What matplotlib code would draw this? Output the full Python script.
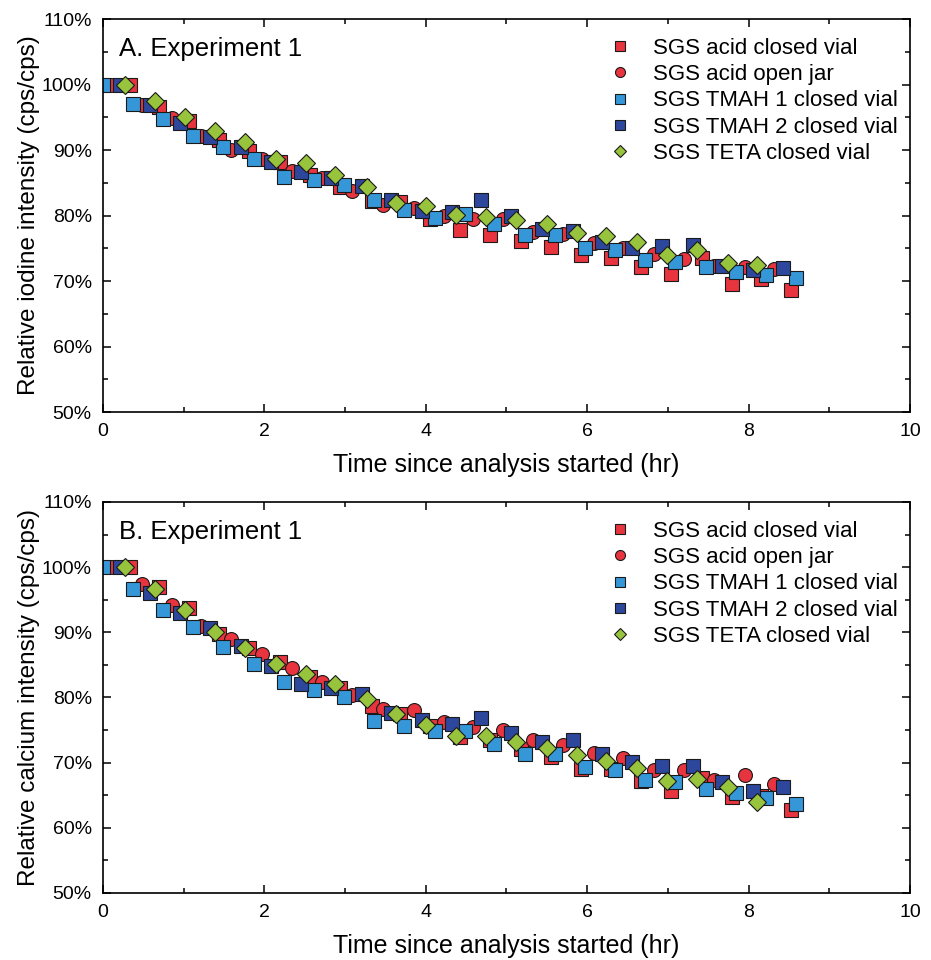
import matplotlib.pyplot as plt
from matplotlib.ticker import MultipleLocator, FuncFormatter

plt.rcParams['font.family'] = ['Liberation Sans', 'DejaVu Sans']

# measurement times (hr), shared by both panels
T_ACID_CLOSED = [0.33, 0.70, 1.07, 1.44, 1.81, 2.19, 2.57, 2.94, 3.33, 3.68, 4.05, 4.43,
                 4.80, 5.18, 5.55, 5.92, 6.30, 6.67, 7.04, 7.42, 7.79, 8.16, 8.53]
T_ACID_OPEN = [0.10, 0.48, 0.86, 1.22, 1.59, 1.97, 2.34, 2.72, 3.09, 3.47, 3.85, 4.22,
               4.59, 4.96, 5.33, 5.70, 6.08, 6.45, 6.83, 7.20, 7.57, 7.95, 8.32]
T_TMAH1 = [0.00, 0.37, 0.75, 1.12, 1.49, 1.87, 2.24, 2.61, 2.99, 3.36, 3.73, 4.11,
           4.48, 4.85, 5.23, 5.60, 5.97, 6.34, 6.72, 7.09, 7.47, 7.84, 8.22, 8.59]
T_TMAH2 = [0.21, 0.58, 0.96, 1.33, 1.71, 2.08, 2.45, 2.83, 3.21, 3.57, 3.95, 4.32,
           4.69, 5.06, 5.44, 5.82, 6.18, 6.56, 6.93, 7.31, 7.67, 8.05, 8.43]
T_TETA = [0.27, 0.64, 1.02, 1.39, 1.76, 2.14, 2.51, 2.88, 3.27, 3.63, 4.00, 4.37,
          4.75, 5.12, 5.50, 5.87, 6.23, 6.62, 6.99, 7.36, 7.74, 8.11]

# panel A: relative iodine intensity (%)
I_ACID_CLOSED = [100, 96.6, 94.4, 91.6, 89.8, 88.1, 86.2, 84.4, 82.2, 82.0, 79.4, 77.8,
                 77.0, 76.1, 75.2, 73.9, 73.5, 72.1, 71.0, 73.5, 69.5, 70.3, 68.6]
I_ACID_OPEN = [100, 96.8, 94.9, 92.2, 90.0, 88.6, 86.8, 85.7, 83.8, 81.6, 81.2, 79.9,
               79.4, 79.5, 77.5, 77.2, 75.8, 75.0, 74.2, 73.3, 72.3, 72.2, 71.9]
I_TMAH1 = [100, 97.1, 94.8, 92.2, 90.4, 88.7, 85.9, 85.4, 84.7, 82.3, 80.8, 79.6,
           80.2, 78.7, 77.1, 77.1, 75.0, 74.7, 73.2, 72.9, 72.2, 71.4, 70.9, 70.5]
I_TMAH2 = [100, 96.8, 94.2, 92.0, 90.4, 88.2, 86.7, 85.7, 84.5, 82.3, 80.7, 80.6,
           82.3, 80.0, 77.9, 77.6, 75.9, 75.1, 75.3, 75.5, 72.3, 71.7, 72.0]
I_TETA = [100, 97.5, 95.0, 92.9, 91.3, 88.7, 88.0, 86.2, 84.4, 81.9, 81.5, 80.1,
          79.7, 79.3, 78.7, 77.4, 76.9, 76.0, 74.0, 74.7, 72.7, 72.4]

# panel B: relative calcium intensity (%)
C_ACID_CLOSED = [100, 96.9, 93.8, 89.8, 87.6, 85.5, 83.2, 81.4, 78.7, 77.5, 75.7, 74.0,
                 73.4, 72.1, 70.9, 69.0, 69.1, 67.2, 65.7, 67.7, 64.7, 64.9, 62.7]
C_ACID_OPEN = [100, 97.4, 94.2, 90.9, 88.9, 86.7, 84.6, 82.3, 80.4, 78.2, 78.1, 76.2,
               75.5, 75.0, 73.4, 72.7, 71.5, 70.7, 68.9, 68.9, 67.3, 68.1, 66.7]
C_TMAH1 = [100, 96.7, 93.4, 90.8, 87.7, 85.1, 82.4, 81.1, 80.0, 76.4, 75.7, 74.8,
           74.9, 72.9, 71.4, 71.4, 69.4, 68.8, 67.4, 67.0, 65.9, 65.3, 64.5, 63.7]
C_TMAH2 = [100, 96.1, 92.9, 90.6, 87.9, 84.8, 82.1, 81.5, 80.6, 77.6, 76.5, 75.9,
           76.8, 74.5, 73.1, 73.5, 71.3, 70.1, 69.5, 69.5, 67.1, 65.6, 66.2]
C_TETA = [100, 96.7, 93.5, 90.1, 87.6, 85.2, 83.6, 82.1, 79.8, 77.5, 75.8, 74.1,
          74.1, 73.2, 72.3, 71.1, 70.2, 69.2, 67.2, 67.5, 66.2, 63.9]

LABELS = ["SGS acid closed vial", "SGS acid open jar", "SGS TMAH 1 closed vial",
          "SGS TMAH 2 closed vial", "SGS TETA closed vial"]
TIMES = [T_ACID_CLOSED, T_ACID_OPEN, T_TMAH1, T_TMAH2, T_TETA]
MARKERS = ["s", "o", "s", "s", "D"]
SIZES = [9.5, 10, 9.5, 9.5, 9]
COLORS = ["#e8343e", "#e8343e", "#3597d8", "#2d479c", "#97c43c"]


def draw_panel(ax, values, title, ylabel):
    for t, v, lab, m, ms, c in zip(TIMES, values, LABELS, MARKERS, SIZES, COLORS):
        ax.plot(t, v, ls="none", marker=m, ms=ms, mfc=c, mec="#1a1a1a", mew=0.8,
                label=lab)
    ax.set_xlim(0, 10)
    ax.set_ylim(50, 110)
    ax.xaxis.set_major_locator(MultipleLocator(2))
    ax.xaxis.set_minor_locator(MultipleLocator(1))
    ax.yaxis.set_major_locator(MultipleLocator(10))
    ax.yaxis.set_minor_locator(MultipleLocator(5))
    ax.yaxis.set_major_formatter(FuncFormatter(lambda y, _: f"{y:.0f}%"))
    ax.tick_params(which="both", direction="in", top=True, right=True,
                   width=1.1, labelsize=14, pad=8)
    ax.tick_params(which="major", length=6)
    ax.tick_params(which="minor", length=3.5)
    for sp in ax.spines.values():
        sp.set_linewidth(1.2)
    ax.set_xlabel("Time since analysis started (hr)", fontsize=18, labelpad=9)
    ax.set_ylabel(ylabel, fontsize=17.5, labelpad=1)
    ax.text(0.02, 0.955, title, transform=ax.transAxes, fontsize=18.5,
            va="top", ha="left")
    ax.legend(loc="upper left", bbox_to_anchor=(0.616, 0.975), frameon=False,
              fontsize=16, markerscale=0.72, handlelength=1.0, handletextpad=1.0,
              labelspacing=0.24, borderaxespad=0)


fig = plt.figure(figsize=(9.31, 9.6), dpi=100)
ax_a = fig.add_axes([0.1106, 0.5708, 0.8668, 0.4094])
ax_b = fig.add_axes([0.1106, 0.0698, 0.8668, 0.4073])

draw_panel(ax_a, [I_ACID_CLOSED, I_ACID_OPEN, I_TMAH1, I_TMAH2, I_TETA],
           "A. Experiment 1", "Relative iodine intensity (cps/cps)")
draw_panel(ax_b, [C_ACID_CLOSED, C_ACID_OPEN, C_TMAH1, C_TMAH2, C_TETA],
           "B. Experiment 1", "Relative calcium intensity (cps/cps)")

fig.savefig("out.png", dpi=100)
